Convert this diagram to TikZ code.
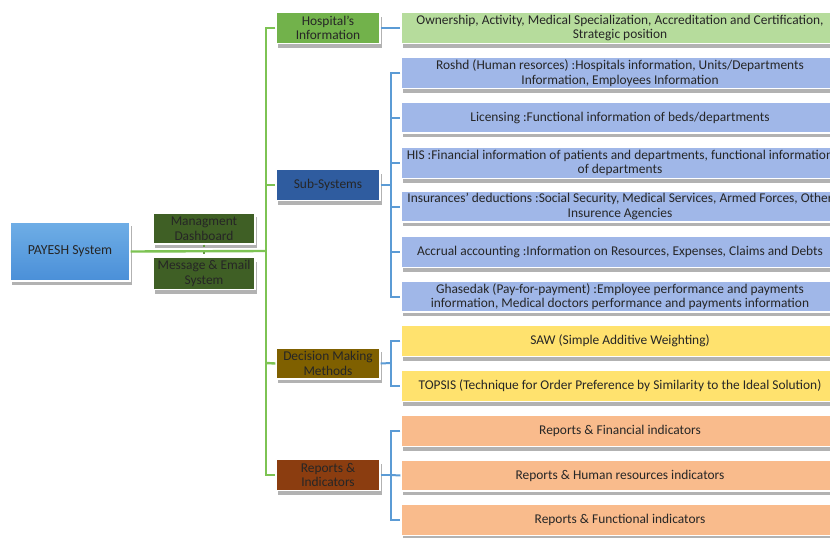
\documentclass[tikz,border=0pt]{standalone}
\usepackage{fontspec}
\setmainfont{Carlito}
\usetikzlibrary{shadows}
\definecolor{gline}{HTML}{7DC353}
\definecolor{bline}{HTML}{5B9BD5}
\definecolor{payA}{HTML}{6FAEE6}
\definecolor{payB}{HTML}{4A8FD8}
\definecolor{mgmt}{HTML}{3F5F25}
\definecolor{hosp}{HTML}{72B24B}
\definecolor{own}{HTML}{B6DC9C}
\definecolor{subs}{HTML}{2F5C9F}
\definecolor{lblue}{HTML}{A0B7E8}
\definecolor{decis}{HTML}{7F6000}
\definecolor{yel}{HTML}{FFE26E}
\definecolor{repc}{HTML}{8B3D10}
\definecolor{peach}{HTML}{F9BB8C}
\begin{document}
\begin{tikzpicture}[x=1pt,y=-1pt,
  box/.style={rectangle, draw=white, line width=1.2pt, inner sep=0pt, align=center,
    font=\fontsize{13.4}{14.5}\selectfont, text=black!85,
    drop shadow={shadow xshift=2pt, shadow yshift=-4pt, fill=black, opacity=0.3}},
  leftbox/.style={box, minimum width=104pt, minimum height=31pt},
  rbox/.style={box, minimum width=456pt, minimum height=31pt},
  txt/.style={inner sep=0pt, align=center, font=\fontsize{13.4}{14.5}\selectfont, text=black!85},
  gconn/.style={draw=gline, line width=2.4pt},
  bconn/.style={draw=bline, line width=2pt}]
\useasboundingbox (0,0) rectangle (830,538);
\clip (0,0) rectangle (830,538);

\coordinate (gtop) at (266,28);
\coordinate (gsub) at (266,185);
\coordinate (gdec) at (266,363);
\coordinate (grep) at (266,475);
\coordinate (gmid) at (266,251);
\coordinate (bsub) at (391,185);
\coordinate (bdec) at (391,363);
\coordinate (brep) at (391,475);

% left column
\node[box, minimum width=120pt, minimum height=59pt, top color=payA, bottom color=payB, font=\fontsize{13.8}{15}\selectfont] (pay) at (70,251.5) {PAYESH System};
\node[box, minimum width=102pt, minimum height=31pt, fill=mgmt] (dash) at (204,228.5) {Managment\\Dashboard};
\node[box, minimum width=102pt, minimum height=32pt, fill=mgmt] (mail) at (204,273.5) {Message \& Email\\System};

\node[leftbox, fill=hosp] (hi) at (328,28) {Hospital's\\Information};
\node[leftbox, fill=subs] (ss) at (328,185) {Sub-Systems};
\node[leftbox, fill=decis] (dm) at (328,363.5) {Decision Making\\Methods};
\node[leftbox, fill=repc] (ri) at (328,475) {Reports \&\\Indicators};

% right boxes
\node[rbox, fill=own] (ow) at (629,28) {};
\node[rbox, fill=lblue] (s1) at (629,73) {};
\node[rbox, fill=lblue] (s2) at (629,117.5) {};
\node[rbox, fill=lblue] (s3) at (629,163) {};
\node[rbox, fill=lblue] (s4) at (629,206.5) {};
\node[rbox, fill=lblue] (s5) at (629,252) {};
\node[rbox, fill=lblue] (s6) at (629,296.5) {};
\node[rbox, fill=yel] (d1) at (629,341) {};
\node[rbox, fill=yel] (d2) at (629,386) {};
\node[rbox, fill=peach] (r1) at (629,431) {};
\node[rbox, fill=peach] (r2) at (629,475.5) {};
\node[rbox, fill=peach] (r3) at (629,520) {};

% texts of right boxes
\node[txt] (owt) at ([xshift=-9pt]ow.center) {Ownership, Activity, Medical Specialization, Accreditation and Certification,\\Strategic position};
\node[txt] (s1t) at ([xshift=-9pt]s1.center) {Roshd (Human resorces) :Hospitals information, Units/Departments\\Information, Employees Information};
\node[txt] (s2t) at ([xshift=-9pt]s2.center) {Licensing :Functional information of beds/departments};
\node[txt] (s3t) at ([xshift=-9pt]s3.center) {HIS :Financial information of patients and departments, functional information\\of departments};
\node[txt] (s4t) at ([xshift=-9pt]s4.center) {Insurances' deductions :Social Security, Medical Services, Armed Forces, Other\\Insurence Agencies};
\node[txt] (s5t) at ([xshift=-9pt]s5.center) {Accrual accounting :Information on Resources, Expenses, Claims and Debts};
\node[txt] (s6t) at ([xshift=-9pt]s6.center) {Ghasedak (Pay-for-payment) :Employee performance and payments\\information, Medical doctors performance and payments information};
\node[txt] (d1t) at ([xshift=-9pt]d1.center) {SAW (Simple Additive Weighting)};
\node[txt] (d2t) at ([xshift=-9pt]d2.center) {TOPSIS (Technique for Order Preference by Similarity to the Ideal Solution)};
\node[txt] (r1t) at ([xshift=-9pt]r1.center) {Reports \& Financial indicators};
\node[txt] (r2t) at ([xshift=-9pt]r2.center) {Reports \& Human resources indicators};
\node[txt] (r3t) at ([xshift=-9pt]r3.center) {Reports \& Functional indicators};

% green connectors
\draw[gconn] (pay.east) -- (gmid);
\draw[gconn] (hi.west) -- (gtop) -- (grep) -- (ri.west);
\draw[gconn] (gsub) -- (ss.west);
\draw[gconn] (gdec) -- (dm.west);
\draw[draw=gline!80!black, line width=1.2pt, dash pattern=on 2pt off 5pt] (dash.south) -- (mail.north);

% blue connectors
\draw[bconn] (hi.east) -- (ow.west);
\draw[bconn] (ss.east) -- (bsub);
\draw[bconn] (s1.west) -| (bsub) |- (s6.west);
\foreach \n in {s2,s3,s4,s5} \draw[bconn] (bsub |- \n.west) -- (\n.west);
\draw[bconn] (dm.east) -- (bdec);
\draw[bconn] (d1.west) -| (bdec) |- (d2.west);
\draw[bconn] (ri.east) -- (brep);
\draw[bconn] (r1.west) -| (brep) |- (r3.west);
\draw[bconn] (brep) -- (r2.west);
\end{tikzpicture}
\end{document}
